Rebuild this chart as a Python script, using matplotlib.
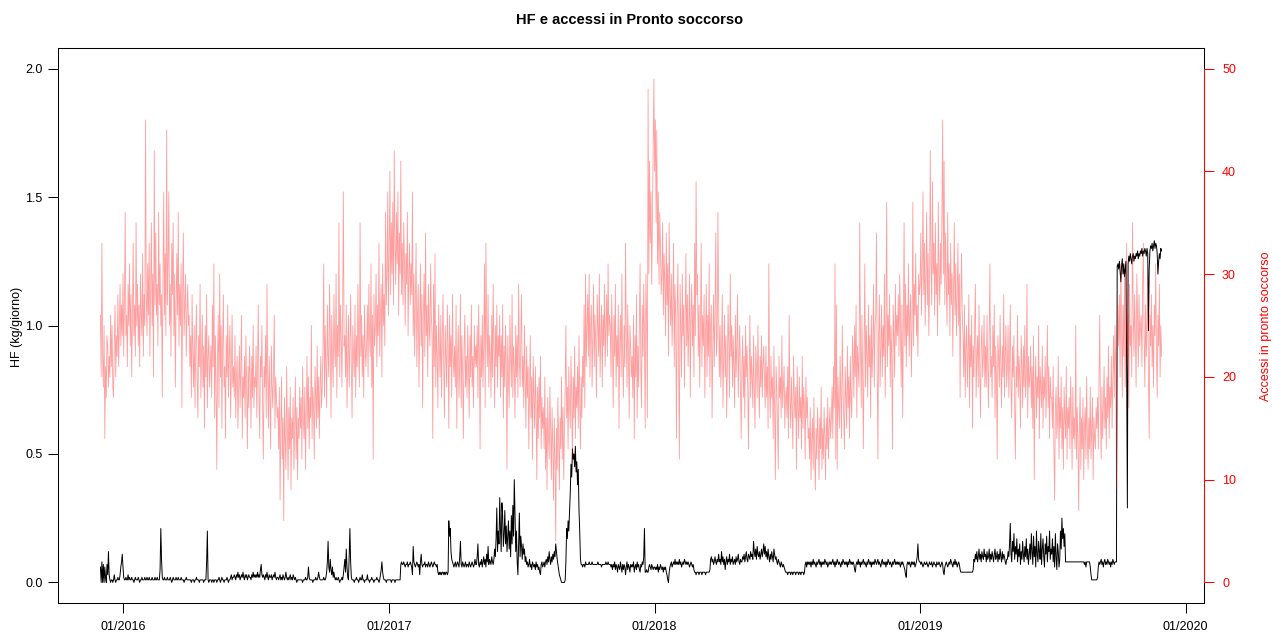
import numpy as np
import pandas as pd
import matplotlib
matplotlib.use('Agg')
import matplotlib.pyplot as plt
import matplotlib.dates as mdates

plt.rcParams['font.family'] = ['Liberation Sans', 'DejaVu Sans']

title = 'HF e accessi in Pronto soccorso'
ylabel_left = 'HF (kg/giorno)'
ylabel_right = 'Accessi in pronto soccorso'
start_date = '2015-12-01'
xtick_dates = ['2016-01-01', '2017-01-01', '2018-01-01', '2019-01-01', '2020-01-01']
xtick_labels = ['01/2016', '01/2017', '01/2018', '01/2019', '01/2020']
yticks_left = [0.0, 0.5, 1.0, 1.5, 2.0]
yticks_right = [0, 10, 20, 30, 40, 50]

# HF (kg/giorno), daily values from 2015-12-01
hf = [
    # Dec 2015
    0.06, 0.0, 0.08, 0.0, 0.07, 0.0, 0.06, 0.02, 0.0, 0.07, 0.03, 0.12, 0.03, 0.01, 0.0, 0.01, 0.01, 0.0, 0.01, 0.03,
    0.01, 0.0, 0.01, 0.01, 0.02, 0.01, 0.01, 0.03, 0.06, 0.08, 0.11,
    # Jan 2016
    0.06, 0.02, 0.01, 0.01, 0.02, 0.01, 0.01, 0.03, 0.01, 0.02, 0.01, 0.01, 0.02, 0.01, 0.01, 0.0, 0.01, 0.02, 0.01, 0.01,
    0.01, 0.02, 0.01, 0.0, 0.01, 0.01, 0.02, 0.01, 0.01, 0.01, 0.02,
    # Feb 2016
    0.01, 0.01, 0.02, 0.01, 0.01, 0.02, 0.01, 0.01, 0.01, 0.02, 0.01, 0.01, 0.01, 0.02, 0.01, 0.01, 0.02, 0.01, 0.01, 0.01,
    0.05, 0.21, 0.09, 0.02, 0.01, 0.01, 0.02, 0.01, 0.01,
    # Mar 2016
    0.01, 0.02, 0.01, 0.01, 0.01, 0.02, 0.01, 0.0, 0.01, 0.02, 0.01, 0.01, 0.01, 0.02, 0.01, 0.01, 0.02, 0.01, 0.01, 0.01,
    0.02, 0.01, 0.01, 0.01, 0.0, 0.01, 0.01, 0.02, 0.01, 0.01, 0.01,
    # Apr 2016
    0.01, 0.01, 0.01, 0.0, 0.01, 0.01, 0.01, 0.0, 0.01, 0.01, 0.02, 0.01, 0.01, 0.01, 0.0, 0.01, 0.01, 0.01, 0.01, 0.01,
    0.0, 0.01, 0.01, 0.01, 0.08, 0.20, 0.01, 0.0, 0.01, 0.01,
    # May 2016
    0.01, 0.0, 0.01, 0.01, 0.0, 0.01, 0.01, 0.01, 0.0, 0.01, 0.01, 0.02, 0.01, 0.0, 0.01, 0.02, 0.01, 0.01, 0.0, 0.01,
    0.01, 0.01, 0.02, 0.01, 0.0, 0.01, 0.01, 0.02, 0.03, 0.01, 0.02,
    # Jun 2016
    0.02, 0.03, 0.02, 0.01, 0.03, 0.02, 0.04, 0.02, 0.03, 0.01, 0.02, 0.03, 0.02, 0.04, 0.02, 0.01, 0.03, 0.02, 0.03, 0.01,
    0.02, 0.03, 0.02, 0.02, 0.01, 0.03, 0.02, 0.04, 0.02, 0.03,
    # Jul 2016
    0.02, 0.03, 0.02, 0.04, 0.02, 0.03, 0.02, 0.05, 0.07, 0.03, 0.02, 0.03, 0.02, 0.01, 0.03, 0.02, 0.04, 0.02, 0.01, 0.03,
    0.02, 0.02, 0.03, 0.01, 0.02, 0.03, 0.02, 0.04, 0.02, 0.01, 0.02,
    # Aug 2016
    0.02, 0.01, 0.02, 0.03, 0.01, 0.02, 0.01, 0.03, 0.02, 0.01, 0.02, 0.04, 0.02, 0.01, 0.02, 0.01, 0.02, 0.03, 0.01, 0.02,
    0.01, 0.03, 0.02, 0.01, 0.02, 0.01, 0.0, 0.01, 0.01, 0.01, 0.01,
    # Sep 2016
    0.01, 0.01, 0.01, 0.0, 0.01, 0.01, 0.01, 0.02, 0.01, 0.01, 0.02, 0.06, 0.02, 0.01, 0.01, 0.01, 0.01, 0.0, 0.01, 0.01,
    0.01, 0.02, 0.01, 0.01, 0.02, 0.04, 0.02, 0.01, 0.01, 0.01,
    # Oct 2016
    0.01, 0.01, 0.02, 0.01, 0.01, 0.02, 0.04, 0.08, 0.16, 0.06, 0.04, 0.09, 0.05, 0.03, 0.06, 0.02, 0.04, 0.02, 0.01, 0.02,
    0.01, 0.01, 0.02, 0.01, 0.0, 0.01, 0.01, 0.02, 0.01, 0.03, 0.06,
    # Nov 2016
    0.09, 0.04, 0.13, 0.06, 0.02, 0.01, 0.10, 0.21, 0.08, 0.02, 0.01, 0.01, 0.01, 0.0, 0.01, 0.01, 0.02, 0.01, 0.01, 0.0,
    0.01, 0.02, 0.01, 0.01, 0.03, 0.01, 0.01, 0.0, 0.01, 0.01,
    # Dec 2016
    0.01, 0.03, 0.01, 0.01, 0.0, 0.01, 0.01, 0.02, 0.01, 0.01, 0.0, 0.01, 0.01, 0.01, 0.02, 0.01, 0.01, 0.0, 0.01, 0.03,
    0.05, 0.08, 0.04, 0.02, 0.01, 0.01, 0.01, 0.0, 0.01, 0.01, 0.01,
    # Jan 2017
    0.01, 0.01, 0.01, 0.0, 0.01, 0.01, 0.01, 0.01, 0.0, 0.01, 0.01, 0.01, 0.01, 0.01, 0.01, 0.01, 0.07, 0.08, 0.07, 0.07,
    0.08, 0.07, 0.06, 0.07, 0.07, 0.08, 0.06, 0.07, 0.07, 0.08, 0.07,
    # Feb 2017
    0.06, 0.03, 0.14, 0.08, 0.07, 0.06, 0.07, 0.08, 0.07, 0.06, 0.07, 0.03, 0.08, 0.11, 0.07, 0.06, 0.07, 0.07, 0.08, 0.06,
    0.07, 0.07, 0.06, 0.08, 0.07, 0.06, 0.07, 0.08,
    # Mar 2017
    0.07, 0.06, 0.07, 0.08, 0.07, 0.07, 0.06, 0.07, 0.04, 0.03, 0.04, 0.03, 0.04, 0.03, 0.04, 0.04, 0.03, 0.04, 0.03, 0.04,
    0.04, 0.03, 0.04, 0.24, 0.18, 0.21, 0.12, 0.09, 0.08, 0.07, 0.06,
    # Apr 2017
    0.07, 0.08, 0.06, 0.07, 0.08, 0.07, 0.06, 0.10, 0.16, 0.07, 0.06, 0.08, 0.07, 0.06, 0.07, 0.08, 0.06, 0.07, 0.07, 0.06,
    0.08, 0.07, 0.06, 0.07, 0.08, 0.07, 0.06, 0.07, 0.09, 0.07,
    # May 2017
    0.07, 0.10, 0.15, 0.07, 0.06, 0.08, 0.07, 0.09, 0.06, 0.08, 0.10, 0.07, 0.09, 0.06, 0.11, 0.08, 0.14, 0.07, 0.09, 0.08,
    0.07, 0.10, 0.08, 0.07, 0.09, 0.13, 0.10, 0.17, 0.29, 0.12, 0.20,
    # Jun 2017
    0.15, 0.33, 0.21, 0.12, 0.31, 0.26, 0.14, 0.19, 0.28, 0.15, 0.22, 0.12, 0.18, 0.24, 0.13, 0.20, 0.10, 0.26, 0.15, 0.30,
    0.18, 0.40, 0.27, 0.12, 0.20, 0.08, 0.03, 0.15, 0.27, 0.10,
    # Jul 2017
    0.18, 0.14, 0.09, 0.15, 0.11, 0.13, 0.08, 0.10, 0.07, 0.08, 0.06, 0.07, 0.09, 0.06, 0.07, 0.05, 0.08, 0.07, 0.06, 0.07,
    0.05, 0.08, 0.06, 0.07, 0.05, 0.06, 0.04, 0.03, 0.07, 0.08, 0.06,
    # Aug 2017
    0.07, 0.08, 0.06, 0.08, 0.09, 0.07, 0.10, 0.08, 0.12, 0.09, 0.07, 0.10, 0.08, 0.11, 0.09, 0.12, 0.10, 0.15, 0.12, 0.09,
    0.07, 0.05, 0.03, 0.02, 0.01, 0.0, 0.0, 0.0, 0.0, 0.0, 0.01,
    # Sep 2017
    0.08, 0.21, 0.17, 0.24, 0.20, 0.28, 0.35, 0.46, 0.41, 0.52, 0.48, 0.50, 0.45, 0.53, 0.43, 0.47, 0.38, 0.44, 0.28, 0.20,
    0.09, 0.07, 0.07, 0.06, 0.07, 0.07, 0.06, 0.08, 0.07, 0.07,
    # Oct 2017
    0.07, 0.07, 0.08, 0.07, 0.07, 0.07, 0.08, 0.07, 0.07, 0.07, 0.07, 0.07, 0.07, 0.07, 0.08, 0.07, 0.07, 0.07, 0.07, 0.06,
    0.07, 0.07, 0.07, 0.07, 0.07, 0.08, 0.07, 0.07, 0.08, 0.07, 0.07,
    # Nov 2017
    0.07, 0.06, 0.07, 0.05, 0.07, 0.06, 0.08, 0.05, 0.07, 0.06, 0.04, 0.07, 0.06, 0.05, 0.08, 0.06, 0.04, 0.07, 0.05, 0.07,
    0.06, 0.03, 0.06, 0.08, 0.05, 0.07, 0.06, 0.04, 0.07, 0.06,
    # Dec 2017
    0.07, 0.06, 0.08, 0.04, 0.06, 0.07, 0.05, 0.08, 0.06, 0.07, 0.05, 0.04, 0.07, 0.06, 0.08, 0.07, 0.10, 0.21, 0.04, 0.04,
    0.05, 0.04, 0.04, 0.06, 0.07, 0.06, 0.05, 0.07, 0.06, 0.05, 0.06,
    # Jan 2018
    0.06, 0.05, 0.06, 0.05, 0.07, 0.04, 0.06, 0.05, 0.07, 0.06, 0.05, 0.06, 0.04, 0.06, 0.05, 0.06, 0.04, 0.03, 0.01, 0.0,
    0.04, 0.06, 0.07, 0.08, 0.06, 0.07, 0.08, 0.07, 0.09, 0.07, 0.08,
    # Feb 2018
    0.07, 0.08, 0.07, 0.09, 0.07, 0.08, 0.06, 0.07, 0.08, 0.07, 0.09, 0.08, 0.07, 0.08, 0.07, 0.08, 0.07, 0.06, 0.07, 0.08,
    0.07, 0.06, 0.07, 0.05, 0.04, 0.04, 0.03, 0.04,
    # Mar 2018
    0.04, 0.04, 0.03, 0.04, 0.04, 0.04, 0.03, 0.04, 0.04, 0.04, 0.04, 0.03, 0.04, 0.04, 0.04, 0.04, 0.04, 0.05, 0.09, 0.10,
    0.08, 0.09, 0.07, 0.08, 0.10, 0.08, 0.07, 0.09, 0.08, 0.11, 0.08,
    # Apr 2018
    0.09, 0.07, 0.12, 0.08, 0.10, 0.07, 0.09, 0.05, 0.08, 0.10, 0.07, 0.09, 0.08, 0.11, 0.07, 0.09, 0.08, 0.10, 0.07, 0.08,
    0.09, 0.07, 0.10, 0.08, 0.09, 0.11, 0.08, 0.07, 0.09, 0.08,
    # May 2018
    0.08, 0.10, 0.09, 0.11, 0.08, 0.10, 0.12, 0.09, 0.08, 0.11, 0.10, 0.09, 0.12, 0.10, 0.11, 0.09, 0.16, 0.12, 0.10, 0.13,
    0.09, 0.14, 0.11, 0.10, 0.12, 0.09, 0.11, 0.13, 0.10, 0.12, 0.15,
    # Jun 2018
    0.11, 0.14, 0.10, 0.12, 0.09, 0.13, 0.10, 0.08, 0.11, 0.09, 0.12, 0.10, 0.08, 0.13, 0.11, 0.09, 0.10, 0.08, 0.07, 0.09,
    0.08, 0.07, 0.06, 0.08, 0.07, 0.06, 0.07, 0.06, 0.05, 0.04,
    # Jul 2018
    0.04, 0.04, 0.03, 0.04, 0.04, 0.04, 0.03, 0.04, 0.04, 0.03, 0.04, 0.04, 0.04, 0.03, 0.04, 0.04, 0.04, 0.03, 0.04, 0.04,
    0.03, 0.04, 0.04, 0.04, 0.03, 0.04, 0.07, 0.08, 0.06, 0.08, 0.07,
    # Aug 2018
    0.08, 0.07, 0.08, 0.06, 0.08, 0.07, 0.09, 0.07, 0.08, 0.07, 0.06, 0.08, 0.07, 0.08, 0.09, 0.07, 0.08, 0.06, 0.08, 0.07,
    0.08, 0.07, 0.09, 0.08, 0.07, 0.08, 0.06, 0.07, 0.08, 0.07, 0.08,
    # Sep 2018
    0.07, 0.08, 0.09, 0.07, 0.08, 0.06, 0.08, 0.07, 0.09, 0.08, 0.07, 0.08, 0.07, 0.06, 0.08, 0.07, 0.09, 0.08, 0.07, 0.08,
    0.07, 0.08, 0.06, 0.08, 0.07, 0.09, 0.08, 0.07, 0.08, 0.07,
    # Oct 2018
    0.08, 0.07, 0.05, 0.04, 0.07, 0.08, 0.07, 0.09, 0.07, 0.08, 0.06, 0.08, 0.07, 0.08, 0.09, 0.07, 0.08, 0.07, 0.06, 0.08,
    0.07, 0.09, 0.08, 0.07, 0.08, 0.06, 0.08, 0.07, 0.08, 0.07, 0.09,
    # Nov 2018
    0.08, 0.07, 0.08, 0.09, 0.07, 0.08, 0.07, 0.06, 0.08, 0.09, 0.07, 0.08, 0.07, 0.08, 0.06, 0.08, 0.07, 0.09, 0.08, 0.07,
    0.08, 0.07, 0.06, 0.08, 0.07, 0.08, 0.09, 0.07, 0.08, 0.07,
    # Dec 2018
    0.08, 0.07, 0.08, 0.07, 0.06, 0.08, 0.07, 0.08, 0.07, 0.06, 0.05, 0.03, 0.02, 0.07, 0.08, 0.07, 0.08, 0.07, 0.06, 0.08,
    0.07, 0.08, 0.07, 0.08, 0.06, 0.07, 0.08, 0.10, 0.15, 0.09, 0.08,
    # Jan 2019
    0.08, 0.07, 0.08, 0.07, 0.06, 0.07, 0.08, 0.07, 0.07, 0.08, 0.07, 0.06, 0.07, 0.08, 0.07, 0.07, 0.08, 0.06, 0.07, 0.08,
    0.07, 0.07, 0.06, 0.08, 0.07, 0.07, 0.08, 0.07, 0.06, 0.07, 0.08,
    # Feb 2019
    0.07, 0.04, 0.03, 0.06, 0.07, 0.08, 0.07, 0.06, 0.07, 0.08, 0.07, 0.09, 0.08, 0.07, 0.06, 0.08, 0.07, 0.09, 0.07, 0.08,
    0.06, 0.07, 0.08, 0.07, 0.05, 0.04, 0.04, 0.04,
    # Mar 2019
    0.04, 0.04, 0.04, 0.04, 0.04, 0.04, 0.04, 0.04, 0.04, 0.04, 0.04, 0.04, 0.04, 0.04, 0.05, 0.09, 0.08, 0.11, 0.09, 0.12,
    0.08, 0.10, 0.13, 0.09, 0.11, 0.08, 0.12, 0.10, 0.09, 0.13, 0.10,
    # Apr 2019
    0.11, 0.08, 0.12, 0.09, 0.10, 0.13, 0.08, 0.11, 0.09, 0.12, 0.10, 0.08, 0.11, 0.13, 0.09, 0.10, 0.12, 0.08, 0.11, 0.09,
    0.13, 0.10, 0.08, 0.12, 0.09, 0.11, 0.10, 0.08, 0.07, 0.09,
    # May 2019
    0.09, 0.12, 0.10, 0.15, 0.23, 0.11, 0.08, 0.16, 0.12, 0.19, 0.09, 0.14, 0.11, 0.17, 0.08, 0.13, 0.10, 0.15, 0.07, 0.12,
    0.09, 0.16, 0.11, 0.08, 0.14, 0.10, 0.17, 0.09, 0.13, 0.07, 0.11,
    # Jun 2019
    0.15, 0.09, 0.19, 0.12, 0.07, 0.18, 0.10, 0.14, 0.06, 0.20, 0.11, 0.08, 0.16, 0.12, 0.09, 0.19, 0.07, 0.13, 0.17, 0.10,
    0.06, 0.15, 0.11, 0.18, 0.08, 0.14, 0.12, 0.20, 0.09, 0.13,
    # Jul 2019
    0.11, 0.17, 0.08, 0.14, 0.06, 0.19, 0.10, 0.05, 0.15, 0.12, 0.06, 0.09, 0.20, 0.13, 0.25, 0.17, 0.21, 0.14, 0.19, 0.08,
    0.08, 0.08, 0.08, 0.08, 0.08, 0.08, 0.08, 0.08, 0.08, 0.08, 0.08,
    # Aug 2019
    0.08, 0.08, 0.08, 0.08, 0.08, 0.08, 0.08, 0.08, 0.08, 0.08, 0.08, 0.08, 0.08, 0.08, 0.07, 0.08, 0.06, 0.08, 0.08, 0.08,
    0.08, 0.08, 0.06, 0.03, 0.01, 0.01, 0.01, 0.01, 0.01, 0.01, 0.01,
    # Sep 2019
    0.01, 0.02, 0.06, 0.08, 0.07, 0.08, 0.09, 0.07, 0.08, 0.06, 0.08, 0.09, 0.07, 0.08, 0.07, 0.09, 0.08, 0.07, 0.08, 0.06,
    0.08, 0.07, 0.09, 0.08, 0.07, 0.08, 0.08, 0.08, 1.23, 1.24,
    # Oct 2019
    1.22, 1.25, 1.21, 1.17, 1.23, 1.26, 1.20, 1.24, 1.19, 1.22, 1.25, 0.85, 0.29, 1.24, 1.27, 1.25, 1.28, 1.26, 1.24, 1.27,
    1.28, 1.25, 1.27, 1.26, 1.28, 1.27, 1.29, 1.26, 1.28, 1.27, 1.29,
    # Nov 2019
    1.28, 1.30, 1.27, 1.29, 1.28, 1.30, 1.29, 1.27, 1.30, 1.28, 0.98, 1.22, 1.29, 1.31, 1.30, 1.32, 1.29, 1.31, 1.33, 1.30,
    1.32, 1.31, 1.28, 1.20, 1.25, 1.28, 1.26, 1.30, 1.29,
]

# Accessi in pronto soccorso, daily counts from 2015-12-01
accessi = [
    # Dec 2015
    26, 20, 33, 22, 19, 25, 14, 21, 18, 24, 23, 19, 22, 20, 26, 21, 25, 19, 18, 23, 27, 20, 24, 22, 28, 21, 25, 29, 23, 27, 24,
    # Jan 2016
    30, 22, 27, 36, 24, 26, 21, 29, 25, 31, 23, 28, 20, 26, 33, 24, 27, 22, 35, 25, 29, 23, 27, 21, 30, 26, 24, 32, 22, 28, 25,
    # Feb 2016
    45, 28, 24, 31, 26, 33, 22, 29, 35, 25, 30, 20, 42, 27, 34, 26, 29, 23, 36, 27, 31, 25, 28, 18, 30, 38, 26, 32, 24,
    # Mar 2016
    44, 27, 31, 38, 25, 29, 22, 33, 28, 35, 24, 30, 19, 27, 32, 26, 36, 23, 29, 25, 31, 17, 28, 34, 24, 27, 30, 22, 26, 29, 25,
    # Apr 2016
    26, 21, 24, 18, 28, 22, 19, 25, 17, 23, 27, 20, 16, 24, 21, 29, 18, 22, 26, 19, 23, 15, 25, 20, 28, 17, 22, 24, 19, 21,
    # May 2016
    23, 18, 27, 21, 31, 16, 24, 19, 11, 22, 26, 17, 30, 20, 25, 15, 23, 28, 19, 21, 14, 24, 20, 27, 18, 22, 25, 16, 21, 26, 19,
    # Jun 2016
    21, 18, 24, 16, 20, 22, 15, 19, 23, 17, 21, 26, 14, 20, 18, 22, 16, 24, 19, 13, 21, 17, 23, 20, 15, 22, 18, 25, 17, 20,
    # Jul 2016
    19, 23, 16, 21, 27, 18, 14, 22, 20, 25, 17, 12, 21, 19, 24, 16, 29, 20, 15, 22, 18, 13, 23, 19, 17, 21, 26, 15, 20, 18, 16,
    # Aug 2016
    17, 13, 19, 8, 15, 20, 12, 16, 6, 18, 14, 11, 21, 15, 10, 17, 13, 19, 9, 16, 14, 18, 11, 15, 20, 12, 17, 10, 16, 14, 19,
    # Sep 2016
    15, 18, 12, 21, 16, 14, 19, 11, 17, 22, 15, 20, 13, 18, 16, 25, 14, 19, 17, 12, 21, 18, 15, 23, 16, 20, 14, 19, 22, 17,
    # Oct 2016
    19, 23, 31, 18, 25, 21, 17, 27, 22, 20, 29, 24, 16, 26, 22, 19, 28, 23, 21, 30, 18, 25, 22, 35, 20, 27, 24, 19, 26, 38, 23,
    # Nov 2016
    24, 20, 27, 17, 22, 26, 19, 23, 28, 21, 16, 25, 22, 20, 27, 18, 24, 21, 29, 23, 19, 35, 22, 26, 20, 24, 18, 27, 23, 21,
    # Dec 2016
    23, 27, 20, 29, 24, 22, 31, 19, 26, 12, 28, 23, 25, 30, 21, 27, 24, 33, 22, 26, 29, 20, 31, 25, 28, 23, 36, 27, 30, 38, 26,
    # Jan 2017
    32, 40, 28, 35, 30, 37, 27, 42, 33, 29, 36, 31, 38, 26, 34, 30, 41, 28, 33, 27, 35, 31, 25, 32, 29, 36, 24, 30, 33, 27, 31,
    # Feb 2017
    28, 38, 24, 30, 22, 27, 33, 21, 26, 29, 19, 25, 31, 23, 28, 17, 26, 30, 22, 34, 24, 27, 20, 29, 25, 23, 31, 26,
    # Mar 2017
    24, 14, 29, 21, 32, 19, 25, 22, 17, 27, 23, 20, 26, 18, 24, 28, 21, 16, 25, 22, 19, 27, 23, 15, 26, 21, 24, 18, 28, 22, 20,
    # Apr 2017
    23, 19, 27, 15, 22, 25, 18, 21, 28, 17, 24, 20, 14, 23, 26, 19, 22, 18, 25, 21, 16, 24, 20, 27, 19, 22, 17, 25, 21, 23,
    # May 2017
    21, 25, 18, 27, 22, 13, 24, 20, 26, 19, 23, 31, 17, 33, 25, 21, 28, 19, 24, 22, 18, 26, 20, 29, 23, 17, 25, 21, 27, 19, 24,
    # Jun 2017
    22, 26, 18, 24, 20, 27, 16, 23, 19, 25, 21, 11, 24, 20, 17, 26, 22, 19, 28, 18, 23, 21, 16, 25, 20, 24, 18, 29, 22, 19,
    # Jul 2017
    24, 28, 19, 22, 17, 25, 20, 15, 23, 18, 21, 13, 19, 24, 16, 20, 12, 22, 18, 15, 21, 17, 10, 19, 14, 20, 16, 22, 13, 18, 15,
    # Aug 2017
    17, 13, 20, 11, 16, 9, 18, 14, 12, 19, 15, 10, 17, 13, 8, 16, 12, 4, 15, 11, 18, 14, 9, 16, 13, 20, 12, 17, 10, 15, 19,
    # Sep 2017
    25, 16, 19, 13, 21, 17, 15, 22, 18, 12, 20, 16, 23, 14, 19, 17, 21, 15, 24, 18, 13, 20, 16, 22, 19, 27, 17, 30, 21, 25,
    # Oct 2017
    28, 22, 30, 20, 25, 27, 19, 24, 29, 21, 26, 23, 18, 28, 25, 22, 30, 20, 24, 27, 19, 26, 23, 29, 21, 25, 28, 22, 31, 24, 26,
    # Nov 2017
    25, 20, 28, 23, 17, 26, 22, 29, 19, 24, 21, 27, 15, 23, 26, 20, 30, 22, 18, 25, 21, 33, 24, 19, 27, 22, 16, 25, 23, 20,
    # Dec 2017
    22, 18, 26, 14, 24, 20, 28, 16, 23, 19, 25, 31, 21, 17, 27, 22, 29, 24, 15, 30, 26, 16, 48, 30, 41, 33, 38, 29, 36, 42, 49,
    # Jan 2018
    40, 45, 35, 44, 31, 38, 29, 36, 33, 28, 30, 35, 26, 32, 29, 24, 34, 27, 31, 22, 35, 28, 25, 30, 23, 27, 33, 21, 29, 26, 14,
    # Feb 2018
    27, 31, 22, 12, 29, 25, 20, 30, 24, 27, 19, 26, 32, 23, 28, 21, 25, 30, 18, 26, 29, 23, 27, 20, 33, 24, 39, 28,
    # Mar 2018
    30, 22, 27, 19, 25, 33, 21, 26, 23, 28, 18, 24, 29, 20, 26, 22, 31, 19, 25, 27, 16, 23, 28, 21, 26, 34, 22, 24, 36, 27, 20,
    # Apr 2018
    25, 19, 23, 28, 17, 22, 26, 20, 24, 16, 21, 27, 23, 18, 30, 22, 25, 19, 24, 21, 17, 26, 20, 23, 28, 18, 22, 25, 19, 14,
    # May 2018
    21, 24, 18, 22, 16, 25, 20, 23, 19, 13, 21, 26, 18, 22, 20, 17, 24, 19, 15, 23, 21, 18, 25, 20, 16, 22, 19, 24, 18, 21, 23,
    # Jun 2018
    20, 17, 23, 18, 21, 15, 31, 19, 16, 22, 18, 20, 14, 23, 17, 10, 21, 19, 15, 11, 22, 18, 20, 16, 24, 17, 19, 21, 15, 18,
    # Jul 2018
    19, 16, 21, 14, 26, 18, 15, 20, 17, 13, 22, 18, 16, 19, 11, 21, 17, 14, 20, 16, 18, 13, 22, 15, 19, 17, 12, 20, 16, 18, 14,
    # Aug 2018
    15, 12, 17, 10, 14, 16, 11, 18, 13, 9, 15, 12, 17, 14, 10, 16, 13, 19, 11, 15, 12, 17, 14, 10, 16, 13, 18, 12, 15, 17, 14,
    # Sep 2018
    16, 19, 14, 21, 17, 31, 12, 27, 11, 20, 17, 15, 22, 18, 14, 25, 19, 16, 13, 21, 18, 15, 23, 17, 20, 14, 22, 18, 16, 24,
    # Oct 2018
    22, 18, 25, 20, 27, 16, 23, 21, 19, 35, 24, 17, 26, 20, 13, 23, 31, 19, 25, 22, 18, 27, 21, 24, 16, 26, 20, 23, 29, 19, 25,
    # Nov 2018
    26, 34, 21, 12, 24, 28, 19, 23, 27, 20, 25, 22, 30, 18, 24, 37, 21, 26, 23, 28, 19, 25, 22, 13, 27, 24, 20, 29, 23, 26,
    # Dec 2018
    24, 28, 22, 30, 26, 19, 27, 16, 25, 35, 23, 29, 21, 27, 24, 31, 22, 26, 28, 20, 25, 37, 23, 29, 26, 32, 24, 27, 22, 30, 28,
    # Jan 2019
    29, 34, 26, 31, 38, 28, 33, 25, 30, 36, 27, 32, 24, 29, 42, 31, 27, 39, 30, 33, 26, 35, 28, 31, 24, 37, 30, 27, 33, 29, 36,
    # Feb 2019
    45, 30, 41, 27, 34, 29, 25, 36, 28, 31, 24, 33, 27, 30, 22, 29, 35, 26, 31, 24, 28, 33, 25, 30, 18, 27, 32, 26,
    # Mar 2019
    24, 20, 27, 18, 23, 25, 19, 22, 28, 17, 24, 21, 26, 15, 23, 20, 25, 29, 18, 22, 24, 19, 27, 21, 16, 23, 25, 20, 22, 26, 19,
    # Apr 2019
    23, 19, 26, 21, 17, 24, 31, 20, 22, 18, 25, 21, 27, 16, 23, 20, 12, 24, 22, 19, 26, 21, 17, 23, 20, 28, 18, 22, 25, 19,
    # May 2019
    21, 25, 18, 22, 27, 19, 16, 23, 20, 24, 17, 12, 21, 19, 26, 18, 22, 20, 15, 24, 21, 17, 23, 19, 25, 18, 20, 29, 16, 22, 19,
    # Jun 2019
    20, 23, 17, 21, 15, 24, 10, 19, 22, 16, 20, 18, 25, 14, 21, 19, 17, 23, 15, 20, 18, 22, 16, 19, 25, 17, 21, 14, 20, 18,
    # Jul 2019
    18, 15, 21, 13, 8, 17, 19, 14, 16, 22, 12, 18, 15, 20, 13, 17, 11, 19, 16, 14, 21, 12, 17, 15, 18, 13, 20, 16, 11, 19, 14,
    # Aug 2019
    16, 13, 25, 12, 17, 14, 7, 15, 19, 11, 16, 13, 18, 10, 15, 17, 12, 20, 14, 11, 16, 13, 19, 12, 15, 18, 10, 16, 14, 13, 17,
    # Sep 2019
    15, 18, 13, 20, 26, 16, 12, 19, 14, 17, 21, 15, 18, 13, 20, 16, 23, 14, 19, 17, 22, 15, 20, 24, 18, 25, 21, 9, 19, 27,
    # Oct 2019
    23, 28, 20, 31, 25, 18, 27, 22, 30, 19, 24, 33, 21, 26, 17, 29, 23, 25, 20, 35, 27, 22, 28, 24, 19, 30, 26, 21, 28, 23, 25,
    # Nov 2019
    26, 21, 29, 33, 24, 19, 27, 22, 25, 30, 20, 14, 26, 23, 28, 21, 25, 19, 27, 24, 31, 22, 18, 26, 23, 29, 20, 25, 22,
]

d_hf = pd.date_range(start_date, periods=len(hf), freq='D')
d_acc = pd.date_range(start_date, periods=len(accessi), freq='D')

W, H = 1273, 632
fig = plt.figure(figsize=(W / 100, H / 100), dpi=100)
L, R, T, B = 58, 1204, 48, 603
ax = fig.add_axes([L / W, 1 - B / H, (R - L) / W, (B - T) / H])

ax.plot(d_hf, hf, color='black', lw=0.7)

t0 = mdates.date2num(d_hf[0])
t1 = mdates.date2num(d_hf[-1])
pad = 0.04 * (t1 - t0)
ax.set_xlim(t0 - pad, t1 + pad)
ax.set_ylim(-0.08, 2.08)

ax.set_xticks([mdates.date2num(pd.Timestamp(d)) for d in xtick_dates])
ax.set_xticklabels(xtick_labels)
ax.set_yticks(yticks_left)
ax.set_yticklabels([f'{v:.1f}' for v in yticks_left])
ax.tick_params(axis='both', direction='out', length=7, width=0.75, labelsize=9, pad=4, colors='black')
ax.tick_params(axis='x', pad=6)
for s in ax.spines.values():
    s.set_linewidth(0.75)
    s.set_color('black')

ax2 = ax.twinx()
ax2.plot(d_acc, accessi, color=(1.0, 0.0, 0.0, 0.38), lw=0.6)
ax2.set_ylim(-2, 52)
ax2.set_yticks(yticks_right)
ax2.tick_params(axis='y', direction='out', length=7, width=0.75, labelsize=9, pad=6,
                colors='red', labelcolor='red')
for k in ['left', 'top', 'bottom']:
    ax2.spines[k].set_visible(False)
ax2.spines['right'].set_color('red')
ax2.spines['right'].set_linewidth(0.75)
ax2.spines['right'].set_bounds(0, 50)

fig.text(630 / W, 1 - 20 / H, title, ha='center', va='center', fontsize=10.5, fontweight='bold')
fig.text(17 / W, 1 - 327 / H, ylabel_left, ha='center', va='center', rotation=90, fontsize=9)
fig.text(1266 / W, 1 - 326 / H, ylabel_right, ha='center', va='center', rotation=90, fontsize=9, color='red')

fig.savefig('out.png', dpi=100)
